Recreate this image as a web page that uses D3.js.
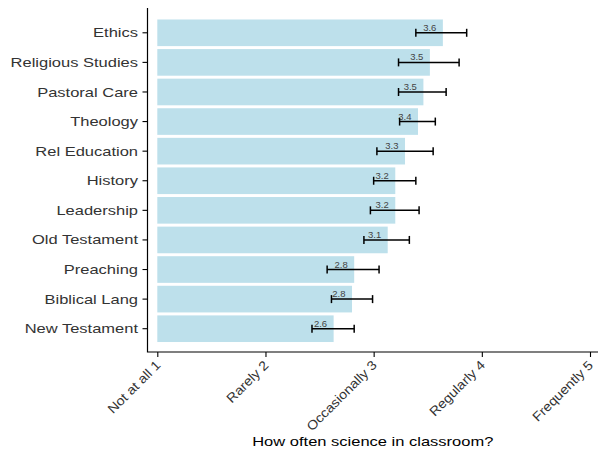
<!DOCTYPE html>
<html>
<head>
<meta charset="utf-8">
<script src="https://cdn.jsdelivr.net/npm/d3@7"></script>
<style>
  html, body { margin: 0; padding: 0; background: #fff; }
  svg { display: block; font-family: "Liberation Sans", Arial, Helvetica, sans-serif; }
</style>
</head>
<body>
<svg id="chart" width="598" height="454"></svg>
<script>
// Subjects, top to bottom
const subjects = ["Ethics", "Religious Studies", "Pastoral Care", "Theology", "Rel Education",
  "History", "Leadership", "Old Testament", "Preaching", "Biblical Lang", "New Testament"];
// Mean rating per subject
const means = [3.64, 3.52, 3.46, 3.41, 3.29, 3.20, 3.20, 3.13, 2.82, 2.80, 2.63];
// Interval bounds per subject
const lower = [3.39, 3.23, 3.23, 3.24, 3.03, 3.00, 2.97, 2.91, 2.57, 2.61, 2.43];
const upper = [3.86, 3.79, 3.67, 3.57, 3.55, 3.39, 3.42, 3.33, 3.05, 2.99, 2.82];
// Frequency scale
const tickValues = [1, 2, 3, 4, 5];
const tickLabels = ["Not at all 1", "Rarely 2", "Occasionally 3", "Regularly 4", "Frequently 5"];
const xTitle = "How often science in classroom?";

const rows = subjects.map((s, i) => ({ subject: s, mean: means[i], lo: lower[i], hi: upper[i] }));

const svg = d3.select("#chart");
const panel = { left: 147.5, right: 598, top: 8, bottom: 352 };
const stretch = 1.27;

const x = d3.scaleLinear().domain([1, 5]).range([157.3, 590]);
const y = d3.scaleBand().domain(subjects).range([18, 343.5])
  .paddingInner(0.1).paddingOuter(0.05);

// bars
svg.append("g").selectAll("rect").data(rows).join("rect")
  .attr("x", x(1))
  .attr("y", d => y(d.subject))
  .attr("width", d => x(d.mean) - x(1))
  .attr("height", y.bandwidth())
  .attr("fill", "lightblue")
  .attr("fill-opacity", 0.8);

// value labels
const fmt = d3.format(".1f");
svg.append("g").selectAll("text").data(rows).join("text")
  .attr("x", d => x(d.mean) - 6.5)
  .attr("y", d => y(d.subject) + y.bandwidth() / 2 - 2)
  .attr("text-anchor", "end")
  .attr("font-size", 9.5)
  .attr("fill", "#444")
  .text(d => fmt(d.mean));

// error bars
const eb = svg.append("g").attr("stroke", "#000").attr("stroke-width", 1.5);
rows.forEach(d => {
  const cy = y(d.subject) + y.bandwidth() / 2;
  eb.append("line").attr("x1", x(d.lo)).attr("x2", x(d.hi)).attr("y1", cy).attr("y2", cy);
  eb.append("line").attr("x1", x(d.lo)).attr("x2", x(d.lo)).attr("y1", cy - 4).attr("y2", cy + 4);
  eb.append("line").attr("x1", x(d.hi)).attr("x2", x(d.hi)).attr("y1", cy - 4).attr("y2", cy + 4);
});

// y axis
const yAxis = svg.append("g")
  .attr("transform", `translate(${panel.left},0)`)
  .call(d3.axisLeft(y).tickSize(5).tickSizeOuter(0));
yAxis.select(".domain").remove();
yAxis.selectAll(".tick line").attr("stroke", "#000").attr("stroke-width", 1.1);
yAxis.selectAll(".tick text")
  .attr("x", 0).attr("dy", "0.35em")
  .attr("transform", `translate(-9.5,0) scale(${stretch},1)`)
  .attr("font-size", 13).attr("fill", "#333");

// x axis
const xAxis = svg.append("g")
  .attr("transform", `translate(0,${panel.bottom})`)
  .call(d3.axisBottom(x).tickValues(tickValues).tickFormat((d, i) => tickLabels[i])
    .tickSize(5).tickSizeOuter(0));
xAxis.select(".domain").remove();
xAxis.selectAll(".tick line").attr("stroke", "#000").attr("stroke-width", 1.1);
xAxis.selectAll(".tick text")
  .attr("x", 0).attr("y", 0).attr("dy", null)
  .attr("text-anchor", "end")
  .attr("transform", "translate(3.5,14) rotate(-45) scale(1.1,1)")
  .attr("font-size", 13).attr("fill", "#333");

// axis lines
svg.append("path")
  .attr("d", `M${panel.left},${panel.top}V${panel.bottom}H${panel.right}`)
  .attr("fill", "none").attr("stroke", "#000").attr("stroke-width", 1.2);

// axis title
svg.append("text")
  .attr("transform", `translate(${(panel.left + panel.right) / 2},446) scale(${stretch},1)`)
  .attr("text-anchor", "middle")
  .attr("font-size", 13)
  .attr("fill", "#000")
  .text(xTitle);
</script>
</body>
</html>
